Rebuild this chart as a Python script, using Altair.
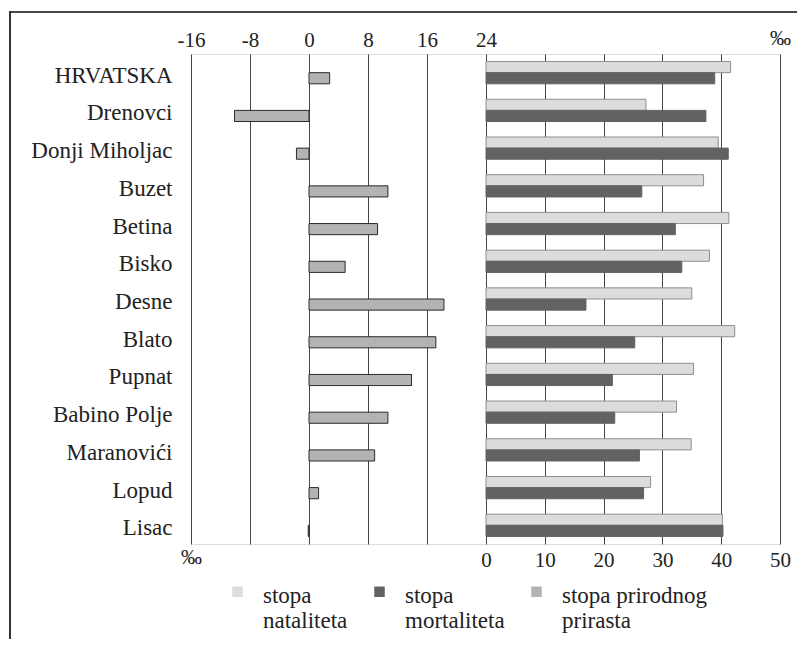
import altair as alt
import pandas as pd

places = ["HRVATSKA", "Drenovci", "Donji Miholjac", "Buzet", "Betina", "Bisko",
          "Desne", "Blato", "Pupnat", "Babino Polje", "Maranovići", "Lopud", "Lisac"]
natalitet = [41.6, 27.2, 39.5, 37.0, 41.3, 38.0, 35.0, 42.3, 35.3, 32.4, 34.9, 28.0, 40.2]
mortalitet = [38.9, 37.4, 41.2, 26.5, 32.2, 33.3, 17.0, 25.3, 21.5, 21.9, 26.1, 26.8, 40.3]
prirast = [2.8, -10.1, -1.7, 10.7, 9.3, 4.9, 18.3, 17.2, 13.9, 10.7, 8.9, 1.3, -0.1]

series = ["stopa nataliteta", "stopa mortaliteta", "stopa prirodnog prirasta"]
fills = ["#dcdcde", "#626262", "#b3b3b6"]
strokes = ["#8f8f8f", "#626262", "#2a2a2a"]
slots = ["gore", "dolje"]
left_ticks = [-16, -8, 0, 8, 16, 24]
right_ticks = [0, 10, 20, 30, 40, 50]

FONT = "Liberation Serif, Times New Roman, Times, serif"
TXT = "#222222"

right_rows = []
for p, n, m in zip(places, natalitet, mortalitet):
    right_rows.append({"mjesto": p, "serija": series[0], "slot": slots[0], "vrijednost": n})
    right_rows.append({"mjesto": p, "serija": series[1], "slot": slots[1], "vrijednost": m})
right_df = pd.DataFrame(right_rows)
left_df = pd.DataFrame({"mjesto": places, "serija": series[2], "slot": slots[1], "vrijednost": prirast})

y_scale = alt.Scale(domain=places, paddingInner=0.41, paddingOuter=0.2)
yoff_scale = alt.Scale(domain=slots, paddingInner=0, paddingOuter=0)

legend = alt.Legend(
    title=None, orient="none", legendX=35, legendY=519, direction="horizontal",
    columns=3, symbolType="M-1,0.34H1V2.34H-1Z", symbolSize=110, symbolStrokeWidth=0,
    labelFont=FONT, labelFontSize=23, labelColor=TXT, labelOffset=14,
    columnPadding=20, labelBaseline="top", padding=0, labelLimit=300,
    labelExpr="datum.label == 'stopa prirodnog prirasta' ? ['stopa prirodnog', 'prirasta'] : split(datum.label, ' ')",
)
color = alt.Color("serija:N", scale=alt.Scale(domain=series, range=fills), legend=legend)
stroke = alt.Stroke("serija:N", scale=alt.Scale(domain=series, range=strokes), legend=None)

left_bars = alt.Chart(left_df).mark_bar(strokeWidth=1).encode(
    x=alt.X("vrijednost:Q", scale=alt.Scale(domain=[-16, 24], nice=False, zero=False),
            axis=alt.Axis(orient="top", values=left_ticks, ticks=False, domain=False,
                          grid=True, gridColor="#444444", labelFont=FONT, labelFontSize=21,
                          labelColor=TXT, labelPadding=4, labelFlush=False, labelOverlap=False,
                          labelExpr="datum.value < 0 ? '-' + abs(datum.value) : '' + datum.value",
                          title="‰", titleX=0, titleY=509, titleAlign="center",
                          titleBaseline="alphabetic", titleFont=FONT, titleFontSize=21,
                          titleFontWeight="normal", titleColor=TXT)),
    y=alt.Y("mjesto:N", sort=places, scale=y_scale,
            axis=alt.Axis(title=None, ticks=False, domain=False, labelFont=FONT,
                          labelFontSize=23, labelColor=TXT, labelPadding=19, labelOffset=3,
                          labelLimit=300)),
    yOffset=alt.YOffset("slot:N", sort=slots, scale=yoff_scale),
    color=color,
    stroke=stroke,
)

frame_src = alt.Data(values=[{"k": 1}])
frame_h = alt.Chart(frame_src).mark_rect(color="#4a4a4a", strokeWidth=0).encode(
    x=alt.value(-182), x2=alt.value(606), y=alt.value(-43), y2=alt.value(-41))
frame_v = alt.Chart(frame_src).mark_rect(color="#333333", strokeWidth=0).encode(
    x=alt.value(-182), x2=alt.value(-180), y=alt.value(-43), y2=alt.value(585))

left = alt.layer(left_bars, frame_h, frame_v).properties(width=295, height=490)

right = alt.Chart(right_df).mark_bar(strokeWidth=1).encode(
    x=alt.X("vrijednost:Q", scale=alt.Scale(domain=[0, 50], nice=False),
            axis=alt.Axis(orient="bottom", values=right_ticks, ticks=False, domain=False,
                          grid=True, gridColor="#444444", labelFont=FONT, labelFontSize=21,
                          labelColor=TXT, labelPadding=5, labelFlush=False, labelOverlap=False,
                          title="‰", titleX=294, titleY=-500, titleAlign="center",
                          titleBaseline="alphabetic", titleFont=FONT, titleFontSize=21,
                          titleFontWeight="normal", titleColor=TXT)),
    y=alt.Y("mjesto:N", sort=places, scale=y_scale, axis=None),
    yOffset=alt.YOffset("slot:N", sort=slots, scale=yoff_scale),
    color=color,
    stroke=stroke,
).properties(width=294, height=490)

chart = alt.hconcat(left, right, spacing=0, bounds="flush").resolve_scale(
    color="shared", stroke="shared"
).properties(
    padding={"left": 0, "top": 2, "right": 0, "bottom": 0}
).configure_view(stroke="#222222", strokeWidth=1).configure(background="white")

chart.save("out.html", embed_options={"renderer": "svg", "actions": False})
